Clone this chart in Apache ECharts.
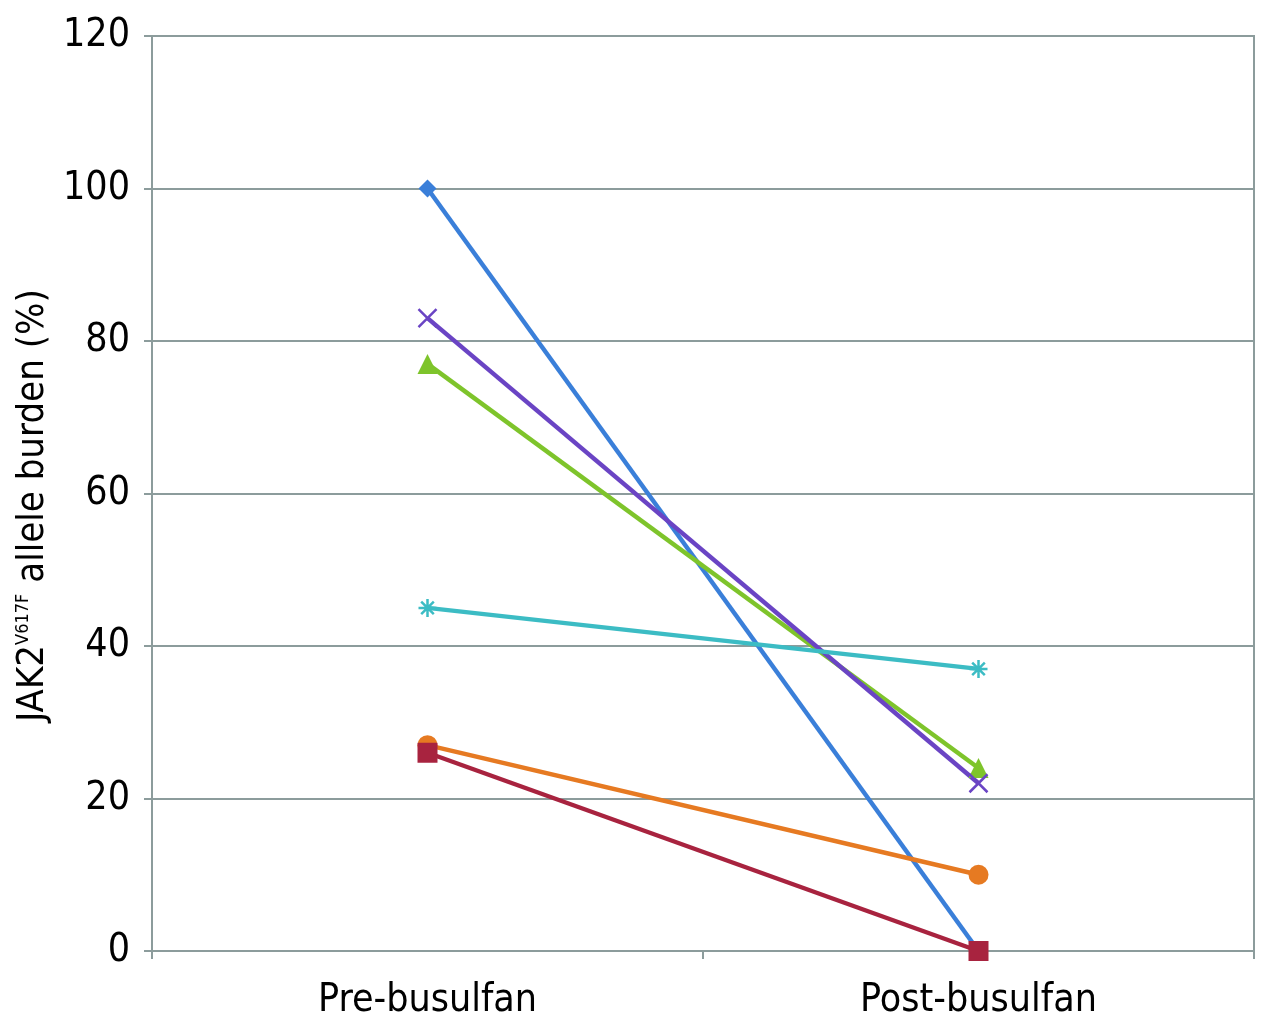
<!DOCTYPE html>
<html><head><meta charset="utf-8">
<script src="https://cdn.jsdelivr.net/npm/echarts@6/dist/echarts.min.js"></script>
<style>html,body{margin:0;padding:0;background:#fff}#c{width:1280px;height:1032px}</style>
</head><body><div id="c"></div>
<script>
const categories = ['Pre-busulfan', 'Post-busulfan'];
const yTicks = [0, 20, 40, 60, 80, 100, 120];
const blueDiamond = [100, 0];
const redSquare = [26, 0];
const greenTriangle = [77, 24];
const purpleCross = [83, 22];
const cyanStar = [45, 37];
const orangeCircle = [27, 10];

const axisGray = '#8c9c9c';
const font = '"Liberation Sans Narrow", "DejaVu Sans Condensed", sans-serif';
const crossPath = 'path://M0,0L10,10M10,0L0,10';
const starPath = 'path://M0,5L10,5M5,0L5,10M1.5,1.5L8.5,8.5M8.5,1.5L1.5,8.5';

function mk(name, data, color, symbol, size, stroke) {
  const s = {
    name, type: 'line', data, symbol, symbolSize: size,
    lineStyle: { color, width: 4.5 },
    itemStyle: { color },
    emphasis: { disabled: true }
  };
  if (stroke) {
    s.itemStyle = { color: 'none', borderColor: color, borderWidth: 2.5 };
  }
  return s;
}

const chart = echarts.init(document.getElementById('c'));
chart.setOption({
  animation: false,
  backgroundColor: '#fff',
  grid: { left: 152, right: 26, top: 36, bottom: 81, show: true, borderColor: axisGray, borderWidth: 2, backgroundColor: 'transparent' },
  xAxis: {
    type: 'category', data: categories, boundaryGap: true,
    axisLine: { lineStyle: { color: axisGray, width: 2 } },
    axisTick: { show: true, length: 8, lineStyle: { color: axisGray, width: 2 } },
    axisLabel: { color: '#000', fontFamily: font, fontSize: 39, margin: 30 }
  },
  yAxis: {
    type: 'value', min: yTicks[0], max: yTicks[yTicks.length - 1], interval: 20,
    name: '{b|JAK2}{s|V617F}{b| allele burden (%)}',
    nameLocation: 'middle', nameGap: 98, nameRotate: 90,
    nameTextStyle: { padding: [0, 24, 0, 0], rich: {
      b: { fontFamily: font, fontSize: 38, color: '#000' },
      s: { fontFamily: font, fontSize: 18, color: '#000', verticalAlign: 'top', padding: [0, 0, 18, 0] }
    } },
    axisLine: { show: true, lineStyle: { color: axisGray, width: 2 } },
    axisTick: { show: true, length: 8, lineStyle: { color: axisGray, width: 2 } },
    splitLine: { show: true, lineStyle: { color: axisGray, width: 2 } },
    axisLabel: { color: '#000', fontFamily: font, fontSize: 39, margin: 22 }
  },
  series: [
    mk('A', blueDiamond, '#3a7fd9', 'diamond', 18),
    mk('B', greenTriangle, '#7ec42b', 'triangle', 20),
    mk('C', purpleCross, '#6a44c4', crossPath, 18, true),
    mk('D', cyanStar, '#3cbcc4', starPath, 18, true),
    mk('E', orangeCircle, '#e67a22', 'circle', 20),
    mk('F', redSquare, '#a8233f', 'rect', 20)
  ]
});
</script></body></html>
